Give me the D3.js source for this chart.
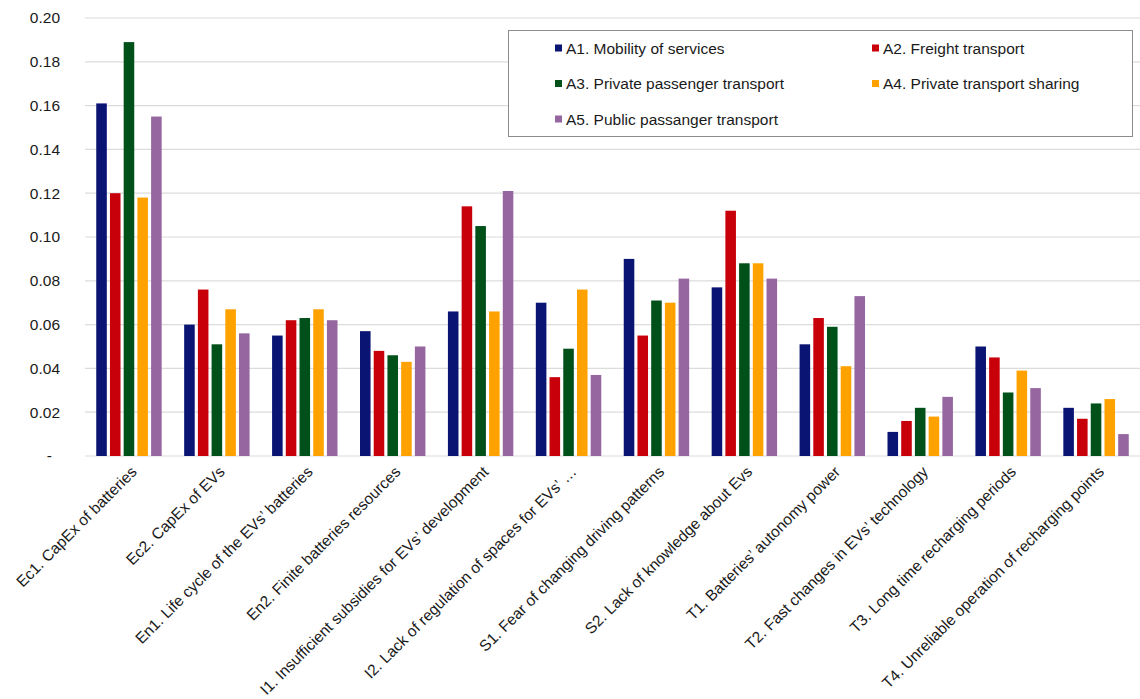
<!DOCTYPE html>
<html>
<head>
<meta charset="utf-8">
<script src="https://cdn.jsdelivr.net/npm/d3@7"></script>
<style>
  html, body { margin: 0; padding: 0; background: #ffffff; }
  svg text { font-family: "Liberation Sans", Arial, sans-serif; fill: #1a1a1a; }
</style>
</head>
<body>
<svg id="chart" width="1140" height="699"></svg>
<script>
// Barrier categories (x axis)
const categories = [
  "Ec1. CapEx of batteries",
  "Ec2. CapEx of EVs",
  "En1. Life cycle of the EVs\u2019 batteries",
  "En2. Finite batteries resources",
  "I1. Insufficient subsidies for EVs\u2019 development",
  "I2. Lack of regulation of spaces for EVs\u2019 \u2026",
  "S1. Fear of changing driving patterns",
  "S2. Lack of knowledge about Evs",
  "T1. Batteries\u2019 autonomy power",
  "T2. Fast changes in EVs\u2019 technology",
  "T3. Long time recharging periods",
  "T4. Unreliable operation of recharging points"
];

// Transport alternatives (series)
const seriesNames = [
  "A1. Mobility of services",
  "A2. Freight transport",
  "A3. Private passenger transport",
  "A4. Private transport sharing",
  "A5. Public passanger transport"
];

// Weights per barrier, one array per alternative
const a1 = [0.161, 0.060, 0.055, 0.057, 0.066, 0.070, 0.090, 0.077, 0.051, 0.011, 0.050, 0.022];
const a2 = [0.120, 0.076, 0.062, 0.048, 0.114, 0.036, 0.055, 0.112, 0.063, 0.016, 0.045, 0.017];
const a3 = [0.189, 0.051, 0.063, 0.046, 0.105, 0.049, 0.071, 0.088, 0.059, 0.022, 0.029, 0.024];
const a4 = [0.118, 0.067, 0.067, 0.043, 0.066, 0.076, 0.070, 0.088, 0.041, 0.018, 0.039, 0.026];
const a5 = [0.155, 0.056, 0.062, 0.050, 0.121, 0.037, 0.081, 0.081, 0.073, 0.027, 0.031, 0.010];
const seriesValues = [a1, a2, a3, a4, a5];

const seriesColors = ["#0a1473", "#c8000a", "#00501a", "#ffa200", "#9566a0"];

// Y axis ticks
const yTicks = [0, 0.02, 0.04, 0.06, 0.08, 0.10, 0.12, 0.14, 0.16, 0.18, 0.20];

const svg = d3.select("#chart");
const plot = { left: 85, right: 1140, top: 18, bottom: 456 };

const y = d3.scaleLinear().domain([0, 0.20]).range([plot.bottom, plot.top]);
const x0 = d3.scaleBand().domain(categories).range([plot.left, plot.right]).padding(0);
const x1 = d3.scaleBand().domain(seriesNames).range([0, x0.bandwidth()])
  .paddingInner(0.23).paddingOuter(0.82);

// Horizontal gridlines
svg.append("g").selectAll("line").data(yTicks).join("line")
  .attr("x1", plot.left).attr("x2", plot.right)
  .attr("y1", d => y(d)).attr("y2", d => y(d))
  .attr("stroke", "#dcdcdc").attr("stroke-width", 1.2);

// Y axis labels
const yAxis = d3.axisLeft(y).tickValues(yTicks)
  .tickFormat(d => d === 0 ? "-" : d3.format(".2f")(d))
  .tickSize(0).tickPadding(0);
const yg = svg.append("g").attr("transform", `translate(60,0)`).call(yAxis);
yg.select(".domain").remove();
yg.selectAll("text")
  .style("font-size", "15.5px")
  .style("font-family", "'Liberation Sans', Arial, sans-serif")
  .attr("fill", "#1a1a1a")
  .attr("dx", d => d === 0 ? -8 : 0);

// Bars
const groups = svg.append("g").selectAll("g").data(categories).join("g")
  .attr("transform", d => `translate(${x0(d)},0)`);
groups.selectAll("rect")
  .data((c, i) => seriesNames.map((s, k) => ({ s, k, v: seriesValues[k][i] })))
  .join("rect")
  .attr("x", d => x1(d.s))
  .attr("width", x1.bandwidth())
  .attr("y", d => y(d.v))
  .attr("height", d => y(0) - y(d.v))
  .attr("fill", d => seriesColors[d.k]);

// Category labels, rotated
svg.append("g").selectAll("text").data(categories).join("text")
  .attr("transform", d => `translate(${x0(d) + x0.bandwidth() / 2 + 5},${plot.bottom + 13}) rotate(-45)`)
  .attr("text-anchor", "end")
  .attr("dy", "0.35em")
  .style("font-size", "15.5px")
  .text(d => d);

// Legend
const legend = svg.append("g");
legend.append("rect")
  .attr("x", 508.5).attr("y", 30.5).attr("width", 624).attr("height", 106)
  .attr("fill", "#ffffff").attr("stroke", "#8c8c8c").attr("stroke-width", 1);
const legendPos = [
  [555, 48], [872, 48],
  [555, 83.5], [872, 83.5],
  [555, 119]
];
const items = legend.selectAll("g.item").data(seriesNames).join("g")
  .attr("class", "item")
  .attr("transform", (d, i) => `translate(${legendPos[i][0]},${legendPos[i][1]})`);
items.append("rect")
  .attr("x", 0).attr("y", -3.5).attr("width", 7).attr("height", 7)
  .attr("fill", (d, i) => seriesColors[i]);
items.append("text")
  .attr("x", 11).attr("dy", "0.36em")
  .style("font-size", "15.5px")
  .text(d => d);
</script>
</body>
</html>
